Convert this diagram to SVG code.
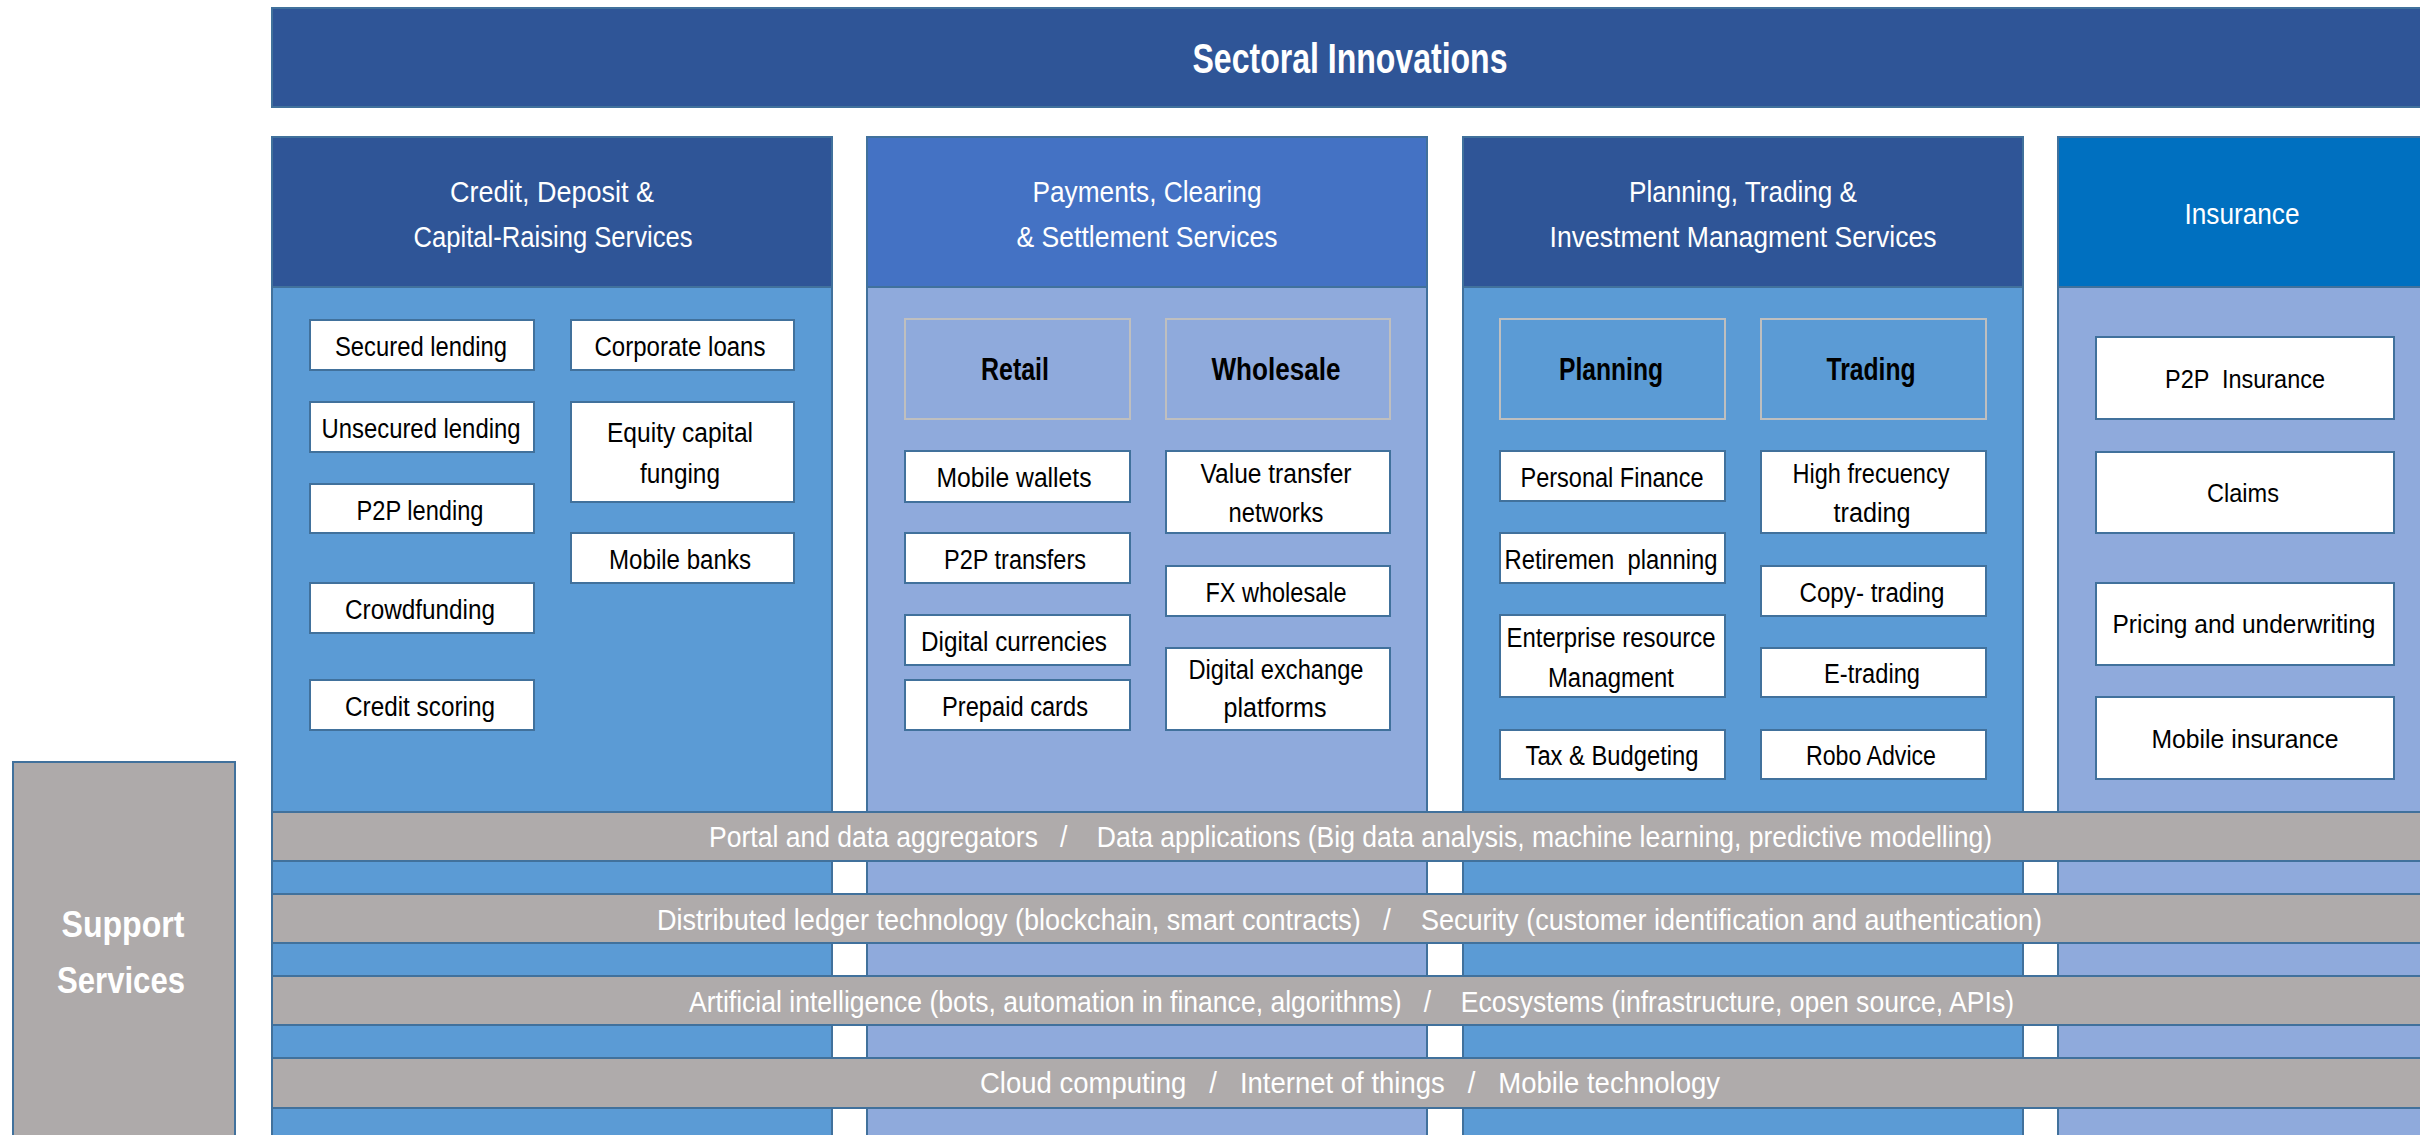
<svg xmlns="http://www.w3.org/2000/svg" width="2420" height="1135" viewBox="0 0 2420 1135">
<style>
text{font-family:"Liberation Sans",Arial,sans-serif;}
.hdr{fill:#ffffff;font-size:30px;text-anchor:middle;}
.ttl{fill:#ffffff;font-size:42px;font-weight:bold;text-anchor:middle;}
.sub{fill:#000000;font-size:32px;font-weight:bold;text-anchor:middle;}
.itm{fill:#000000;font-size:27px;text-anchor:middle;}
.ins{fill:#000000;font-size:26px;text-anchor:middle;}
.bar{fill:#ffffff;font-size:29px;}
.sup{fill:#ffffff;font-size:37px;font-weight:bold;text-anchor:middle;}
.box{fill:#ffffff;stroke:#41719c;stroke-width:2;}
.grp{stroke:#bfbfbf;stroke-width:2;}
.colA{fill:#5b9bd5;stroke:#41719c;stroke-width:2;}
.colB{fill:#8faadc;stroke:#41719c;stroke-width:2;}
.band{fill:#afabab;stroke:#41719c;stroke-width:2;}
</style>

<g id="banner">
<rect x="272" y="8" width="2160" height="99" fill="#2f5597" stroke="#41719c" stroke-width="2"/>
<text class="ttl" x="1350" y="73" textLength="315" lengthAdjust="spacingAndGlyphs">Sectoral Innovations</text>
</g>

<g id="col-credit">
<rect class="colA" x="272" y="287" width="560" height="860"/>
<rect x="272" y="137" width="560" height="150" fill="#2f5597" stroke="#41719c" stroke-width="2"/>
<text class="hdr" x="552" y="202" textLength="204" lengthAdjust="spacingAndGlyphs">Credit, Deposit &amp;</text>
<text class="hdr" x="553" y="247" textLength="279" lengthAdjust="spacingAndGlyphs">Capital-Raising Services</text>
</g>
<g id="col-payments">
<rect class="colB" x="867" y="287" width="560" height="860"/>
<rect x="867" y="137" width="560" height="150" fill="#4472c4" stroke="#41719c" stroke-width="2"/>
<text class="hdr" x="1147" y="202" textLength="229" lengthAdjust="spacingAndGlyphs">Payments, Clearing</text>
<text class="hdr" x="1147" y="247" textLength="261" lengthAdjust="spacingAndGlyphs">&amp; Settlement Services</text>
</g>
<g id="col-planning">
<rect class="colA" x="1463" y="287" width="560" height="860"/>
<rect x="1463" y="137" width="560" height="150" fill="#2f5597" stroke="#41719c" stroke-width="2"/>
<text class="hdr" x="1743" y="202" textLength="228" lengthAdjust="spacingAndGlyphs">Planning, Trading &amp;</text>
<text class="hdr" x="1743" y="247" textLength="387" lengthAdjust="spacingAndGlyphs">Investment Managment Services</text>
</g>
<g id="col-insurance">
<rect class="colB" x="2058" y="287" width="400" height="860"/>
<rect x="2058" y="137" width="400" height="150" fill="#0070c0" stroke="#41719c" stroke-width="2"/>
<text class="hdr" x="2242" y="224" textLength="115" lengthAdjust="spacingAndGlyphs">Insurance</text>
</g>

<g id="secured-lending"><rect class="box" x="310" y="320" width="224" height="50"/><text class="itm" x="421" y="356" textLength="172" lengthAdjust="spacingAndGlyphs">Secured lending</text></g>
<g id="corporate-loans"><rect class="box" x="571" y="320" width="223" height="50"/><text class="itm" x="680" y="356" textLength="171" lengthAdjust="spacingAndGlyphs">Corporate loans</text></g>
<g id="unsecured-lending"><rect class="box" x="310" y="402" width="224" height="50"/><text class="itm" x="421" y="438" textLength="199" lengthAdjust="spacingAndGlyphs">Unsecured lending</text></g>
<g id="equity-capital"><rect class="box" x="571" y="402" width="223" height="100"/><text class="itm" x="680" y="442" textLength="146" lengthAdjust="spacingAndGlyphs">Equity capital</text><text class="itm" x="680" y="483" textLength="80" lengthAdjust="spacingAndGlyphs">funging</text></g>
<g id="p2p-lending"><rect class="box" x="310" y="484" width="224" height="49"/><text class="itm" x="420" y="520" textLength="127" lengthAdjust="spacingAndGlyphs">P2P lending</text></g>
<g id="mobile-banks"><rect class="box" x="571" y="533" width="223" height="50"/><text class="itm" x="680" y="569" textLength="142" lengthAdjust="spacingAndGlyphs">Mobile banks</text></g>
<g id="crowdfunding"><rect class="box" x="310" y="583" width="224" height="50"/><text class="itm" x="420" y="619" textLength="150" lengthAdjust="spacingAndGlyphs">Crowdfunding</text></g>
<g id="credit-scoring"><rect class="box" x="310" y="680" width="224" height="50"/><text class="itm" x="420" y="716" textLength="150" lengthAdjust="spacingAndGlyphs">Credit scoring</text></g>

<g id="retail"><rect class="grp" fill="#8faadc" x="905" y="319" width="225" height="100"/><text class="sub" x="1015" y="380" textLength="68" lengthAdjust="spacingAndGlyphs">Retail</text></g>
<g id="wholesale"><rect class="grp" fill="#8faadc" x="1166" y="319" width="224" height="100"/><text class="sub" x="1276" y="380" textLength="129" lengthAdjust="spacingAndGlyphs">Wholesale</text></g>
<g id="mobile-wallets"><rect class="box" x="905" y="451" width="225" height="51"/><text class="itm" x="1014" y="487" textLength="155" lengthAdjust="spacingAndGlyphs">Mobile wallets</text></g>
<g id="value-transfer"><rect class="box" x="1166" y="451" width="224" height="82"/><text class="itm" x="1276" y="483" textLength="151" lengthAdjust="spacingAndGlyphs">Value transfer</text><text class="itm" x="1276" y="522" textLength="95" lengthAdjust="spacingAndGlyphs">networks</text></g>
<g id="p2p-transfers"><rect class="box" x="905" y="533" width="225" height="50"/><text class="itm" x="1015" y="569" textLength="142" lengthAdjust="spacingAndGlyphs">P2P transfers</text></g>
<g id="fx-wholesale"><rect class="box" x="1166" y="566" width="224" height="50"/><text class="itm" x="1276" y="602" textLength="141" lengthAdjust="spacingAndGlyphs">FX wholesale</text></g>
<g id="digital-currencies"><rect class="box" x="905" y="615" width="225" height="50"/><text class="itm" x="1014" y="651" textLength="186" lengthAdjust="spacingAndGlyphs">Digital currencies</text></g>
<g id="digital-exchange"><rect class="box" x="1166" y="648" width="224" height="82"/><text class="itm" x="1276" y="679" textLength="175" lengthAdjust="spacingAndGlyphs">Digital exchange</text><text class="itm" x="1275" y="717" textLength="103" lengthAdjust="spacingAndGlyphs">platforms</text></g>
<g id="prepaid-cards"><rect class="box" x="905" y="680" width="225" height="50"/><text class="itm" x="1015" y="716" textLength="146" lengthAdjust="spacingAndGlyphs">Prepaid cards</text></g>

<g id="planning"><rect class="grp" fill="#5b9bd5" x="1500" y="319" width="225" height="100"/><text class="sub" x="1611" y="380" textLength="104" lengthAdjust="spacingAndGlyphs">Planning</text></g>
<g id="trading"><rect class="grp" fill="#5b9bd5" x="1761" y="319" width="225" height="100"/><text class="sub" x="1871" y="380" textLength="89" lengthAdjust="spacingAndGlyphs">Trading</text></g>
<g id="personal-finance"><rect class="box" x="1500" y="451" width="225" height="50"/><text class="itm" x="1612" y="487" textLength="183" lengthAdjust="spacingAndGlyphs">Personal Finance</text></g>
<g id="high-frequency"><rect class="box" x="1761" y="451" width="225" height="82"/><text class="itm" x="1871" y="483" textLength="157" lengthAdjust="spacingAndGlyphs">High frecuency</text><text class="itm" x="1872" y="522" textLength="77" lengthAdjust="spacingAndGlyphs">trading</text></g>
<g id="retirement"><rect class="box" x="1500" y="533" width="225" height="50"/><text class="itm" x="1611" y="569" textLength="213" lengthAdjust="spacingAndGlyphs" xml:space="preserve">Retiremen  planning</text></g>
<g id="copy-trading"><rect class="box" x="1761" y="566" width="225" height="50"/><text class="itm" x="1872" y="602" textLength="145" lengthAdjust="spacingAndGlyphs">Copy- trading</text></g>
<g id="enterprise-resource"><rect class="box" x="1500" y="615" width="225" height="82"/><text class="itm" x="1611" y="647" textLength="209" lengthAdjust="spacingAndGlyphs">Enterprise resource</text><text class="itm" x="1611" y="687" textLength="126" lengthAdjust="spacingAndGlyphs">Managment</text></g>
<g id="e-trading"><rect class="box" x="1761" y="648" width="225" height="49"/><text class="itm" x="1872" y="683" textLength="96" lengthAdjust="spacingAndGlyphs">E-trading</text></g>
<g id="tax-budgeting"><rect class="box" x="1500" y="730" width="225" height="49"/><text class="itm" x="1612" y="765" textLength="173" lengthAdjust="spacingAndGlyphs">Tax &amp; Budgeting</text></g>
<g id="robo-advice"><rect class="box" x="1761" y="730" width="225" height="49"/><text class="itm" x="1871" y="765" textLength="130" lengthAdjust="spacingAndGlyphs">Robo Advice</text></g>

<g id="p2p-insurance"><rect class="box" x="2096" y="337" width="298" height="82"/><text class="ins" x="2245" y="388" textLength="160" lengthAdjust="spacingAndGlyphs" xml:space="preserve">P2P  Insurance</text></g>
<g id="claims"><rect class="box" x="2096" y="452" width="298" height="81"/><text class="ins" x="2243" y="502" textLength="72" lengthAdjust="spacingAndGlyphs">Claims</text></g>
<g id="pricing"><rect class="box" x="2096" y="583" width="298" height="82"/><text class="ins" x="2244" y="633" textLength="263" lengthAdjust="spacingAndGlyphs">Pricing and underwriting</text></g>
<g id="mobile-insurance"><rect class="box" x="2096" y="697" width="298" height="82"/><text class="ins" x="2245" y="748" textLength="187" lengthAdjust="spacingAndGlyphs">Mobile insurance</text></g>

<g id="support-services">
<rect x="13" y="762" width="222" height="390" fill="#aeaaaa" stroke="#41719c" stroke-width="2"/>
<text class="sup" x="123" y="937" textLength="123" lengthAdjust="spacingAndGlyphs">Support</text>
<text class="sup" x="121" y="993" textLength="128" lengthAdjust="spacingAndGlyphs">Services</text>
</g>

<g id="band-data">
<rect class="band" x="272" y="812" width="2160" height="49"/>
<text class="bar" x="709" y="847" textLength="1283" lengthAdjust="spacingAndGlyphs" xml:space="preserve">Portal and data aggregators   /    Data applications (Big data analysis, machine learning, predictive modelling)</text>
</g>
<g id="band-ledger">
<rect class="band" x="272" y="894" width="2160" height="49"/>
<text class="bar" x="657" y="930" textLength="1385" lengthAdjust="spacingAndGlyphs" xml:space="preserve">Distributed ledger technology (blockchain, smart contracts)   /    Security (customer identification and authentication)</text>
</g>
<g id="band-ai">
<rect class="band" x="272" y="976" width="2160" height="49"/>
<text class="bar" x="689" y="1012" textLength="1325" lengthAdjust="spacingAndGlyphs" xml:space="preserve">Artificial intelligence (bots, automation in finance, algorithms)   /    Ecosystems (infrastructure, open source, APIs)</text>
</g>
<g id="band-cloud">
<rect class="band" x="272" y="1058" width="2160" height="50"/>
<text class="bar" x="980" y="1093" textLength="740" lengthAdjust="spacingAndGlyphs" xml:space="preserve">Cloud computing   /   Internet of things   /   Mobile technology</text>
</g>

<g id="connectors"></g>
</svg>
